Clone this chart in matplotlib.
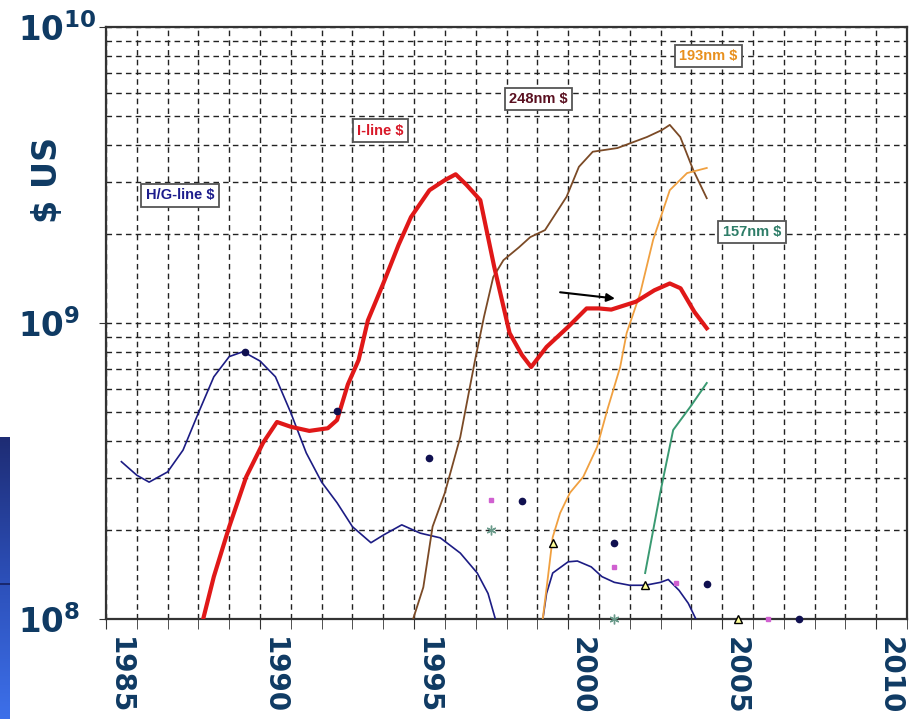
import numpy as np
import matplotlib
matplotlib.use("Agg")
import matplotlib.pyplot as plt
from matplotlib.ticker import MultipleLocator, FixedLocator, NullFormatter, LogLocator
from matplotlib.colors import LinearSegmentedColormap

# Revenue curves per exposure technology ($ US, log scale)
hg_years = [1985.5, 1986.0, 1986.4, 1987.0, 1987.5, 1988.0, 1988.5, 1989.0, 1989.45,
            1990.0, 1990.5, 1991.0, 1991.5, 1992.0, 1992.5, 1993.0, 1993.6, 1994.0,
            1994.6, 1995.2, 1995.85, 1996.5, 1997.05, 1997.4, 1997.7,
            np.nan,
            1999.15, 1999.3, 1999.5, 2000.0, 2000.3, 2000.75, 2001.1, 2001.5, 2002.0,
            2002.5, 2003.0, 2003.25, 2003.6, 2003.9, 2004.25]
hg_values = [3.4e8, 3.06e8, 2.9e8, 3.14e8, 3.72e8, 4.97e8, 6.58e8, 7.7e8, 8.0e8,
             7.44e8, 6.58e8, 4.97e8, 3.64e8, 2.9e8, 2.47e8, 2.05e8, 1.81e8, 1.92e8,
             2.08e8, 1.95e8, 1.88e8, 1.67e8, 1.43e8, 1.22e8, 9.5e7,
             np.nan,
             9.5e7, 1.22e8, 1.43e8, 1.56e8, 1.57e8, 1.5e8, 1.39e8, 1.33e8, 1.3e8,
             1.3e8, 1.33e8, 1.36e8, 1.25e8, 1.13e8, 9.5e7]

iline_years = [1988.1, 1988.5, 1989.0, 1989.55, 1990.1, 1990.55, 1991.0, 1991.6, 1992.2,
               1992.5, 1992.85, 1993.2, 1993.5, 1994.0, 1994.5, 1994.9, 1995.5, 1996.0,
               1996.35, 1996.7, 1997.15, 1997.6, 1998.1, 1998.5, 1998.8, 1999.3,
               2000.0, 2000.6, 2001.0, 2001.4, 2002.2, 2002.8, 2003.3, 2003.65, 2004.1,
               2004.5]
iline_values = [9.5e7, 1.39e8, 2.05e8, 3.02e8, 3.94e8, 4.63e8, 4.46e8, 4.32e8, 4.41e8,
                4.7e8, 6.2e8, 7.5e8, 1.02e9, 1.36e9, 1.84e9, 2.28e9, 2.81e9, 3.04e9,
                3.18e9, 2.93e9, 2.6e9, 1.55e9, 9.25e8, 7.8e8, 7.1e8, 8.3e8,
                9.7e8, 1.12e9, 1.12e9, 1.11e9, 1.18e9, 1.29e9, 1.36e9, 1.31e9, 1.09e9,
                9.6e8]

krf_years = [1994.9, 1995.3, 1995.6, 1996.0, 1996.5, 1996.98, 1997.27, 1997.57, 1997.9,
             1998.4, 1998.77, 1999.25, 1999.95, 2000.35, 2000.8, 2001.6, 2002.56,
             2003.05, 2003.3, 2003.64, 2004.06, 2004.5]
krf_values = [9.5e7, 1.28e8, 2.05e8, 2.67e8, 4.12e8, 7.5e8, 1.05e9, 1.43e9, 1.63e9,
              1.8e9, 1.95e9, 2.06e9, 2.67e9, 3.37e9, 3.79e9, 3.9e9, 4.25e9,
              4.49e9, 4.67e9, 4.25e9, 3.29e9, 2.64e9]

arf_years = [1999.15, 1999.35, 1999.5, 1999.74, 2000.06, 2000.49, 2000.94, 2001.27,
             2001.69, 2001.9, 2002.34, 2002.76, 2003.3, 2003.86, 2004.5]
arf_values = [9.5e7, 1.4e8, 1.89e8, 2.28e8, 2.67e8, 3.02e8, 3.81e8, 5.08e8,
              7.1e8, 9.25e8, 1.26e9, 1.91e9, 2.81e9, 3.21e9, 3.34e9]

f2_years = [2002.5, 2002.99, 2003.41, 2003.96, 2004.5]
f2_values = [1.43e8, 2.67e8, 4.35e8, 5.2e8, 6.27e8]

# Scattered point series
dot_years = [1989.5, 1992.5, 1995.5, 1998.5, 2001.5, 2004.5, 2007.5]
dot_values = [8.0e8, 5.05e8, 3.5e8, 2.5e8, 1.81e8, 1.31e8, 1.0e8]
sq_years = [1997.5, 2001.5, 2003.5, 2006.5]
sq_values = [2.52e8, 1.5e8, 1.32e8, 1.0e8]
star_years = [1997.5, 2001.5]
star_values = [2.0e8, 1.0e8]
tri_years = [1999.5, 2002.5, 2005.5]
tri_values = [1.8e8, 1.3e8, 1.0e8]

series_labels = ["H/G-line $", "I-line $", "248nm $", "193nm $", "157nm $"]

navy = "#0f3a63"

fig = plt.figure(figsize=(9.19, 7.19), dpi=100)
ax = fig.add_axes([106 / 919, 100 / 719, 801 / 919, 592 / 719])

ax.plot(hg_years, hg_values, color="#1c1c84", lw=1.2, zorder=3)
ax.plot(krf_years, krf_values, color="#7b4a26", lw=1.3, zorder=3)
ax.plot(arf_years, arf_values, color="#f0a040", lw=1.3, zorder=3)
ax.plot(f2_years, f2_values, color="#3a9a72", lw=1.4, zorder=3)
ax.plot(iline_years, iline_values, color="#e01818", lw=3.0, zorder=4,
        solid_joinstyle="round")

ax.plot(dot_years, dot_values, "o", color="#101050", ms=4.5, clip_on=False, zorder=5)
ax.plot(sq_years, sq_values, "s", color="#d060d0", ms=3.5, clip_on=False, zorder=5)
ax.plot(star_years, star_values, marker=(6, 2, 0), ls="none", color="#6a9a8a",
        ms=7, mew=1, clip_on=False, zorder=5)
ax.plot(tri_years, tri_values, "^", mfc="#ffff99", mec="black", ms=6, mew=1,
        clip_on=False, zorder=5)

ax.annotate("", xy=(2001.52, 1.21e9), xytext=(1999.74, 1.27e9),
            arrowprops=dict(arrowstyle="-|>", color="black", lw=1.5,
                            mutation_scale=12, shrinkA=0, shrinkB=0))

# Series name boxes
label_font = dict(family="Liberation Sans", weight="bold", fontsize=10.5,
                  ha="center", va="center", zorder=6)
box = dict(boxstyle="square,pad=0.3", fc="white", ec="#555555", lw=1.3)
ax.text(1987.4, 2.7e9, series_labels[0], color="#1c1c8c", bbox=box, **label_font)
ax.text(1993.9, 4.46e9, series_labels[1], color="#d81828", bbox=box, **label_font)
ax.text(1999.03, 5.71e9, series_labels[2], color="#5a1020", bbox=box, **label_font)
ax.text(2004.55, 7.98e9, series_labels[3], color="#e8901e", bbox=box, **label_font)
ax.text(2005.97, 2.03e9, series_labels[4], color="#2e7d68", bbox=box, **label_font)

ax.set_yscale("log")
ax.set_xlim(1985, 2011)
ax.set_ylim(1e8, 1e10)

ax.xaxis.set_minor_locator(MultipleLocator(1))
ax.set_xticks([1985, 1990, 1995, 2000, 2005, 2010])
ax.set_xticklabels(["1985", "1990", "1995", "2000", "2005", "2010"],
                   rotation=270, fontsize=20, fontweight="bold", color=navy, ha="left")

ax.yaxis.set_major_locator(FixedLocator([1e8, 1e9, 1e10]))
ax.yaxis.set_minor_locator(LogLocator(base=10, subs=np.arange(2, 10)))
ax.yaxis.set_minor_formatter(NullFormatter())
ax.set_yticklabels([r"$\mathbf{10^{8}}$", r"$\mathbf{10^{9}}$", r"$\mathbf{10^{10}}$"],
                   fontsize=23.5, color=navy)
for lab in ax.get_yticklabels():
    lab.set_horizontalalignment("left")

ax.tick_params(axis="y", which="major", length=5, color="#333333", pad=58)
ax.tick_params(axis="y", which="minor", length=0)
ax.tick_params(axis="x", which="both", length=7, color="#333333", pad=6)

ax.grid(True, which="both", color="#222222", linestyle=(0, (4, 3)), lw=1.0)
for side in ["left", "bottom", "top", "right"]:
    ax.spines[side].set_color("#333333")
    ax.spines[side].set_linewidth(1.6)

ax.set_ylabel("$ US", fontsize=24, fontweight="bold", color=navy)
ax.yaxis.set_label_coords(-0.052, 0.742)

# slide background strip on the left edge
strip = fig.add_axes([0, 0, 10 / 919, 282 / 719])
grad = np.linspace(0, 1, 256).reshape(-1, 1)
cmap = LinearSegmentedColormap.from_list("strip", ["#1e2c74", "#2c4fb8", "#3d70ea"])
strip.imshow(grad, aspect="auto", cmap=cmap, extent=[0, 1, 0, 1], origin="upper")
strip.axhline(0.479, color="#162060", lw=1.2)
strip.axis("off")

fig.savefig("out.png", dpi=100)
